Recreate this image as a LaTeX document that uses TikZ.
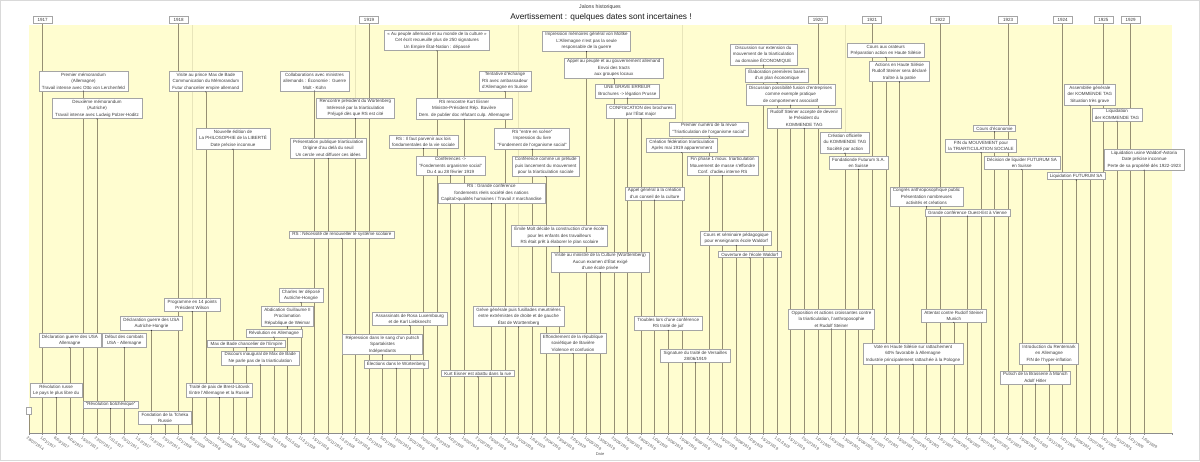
\documentclass[tikz,border=0pt]{standalone}
\usepackage{fontspec}
\setmainfont{Liberation Sans}
\definecolor{yel}{RGB}{255,253,208}
\definecolor{gridc}{RGB}{232,229,186}
\definecolor{tline}{RGB}{150,143,115}
\definecolor{bord}{RGB}{165,165,165}
\definecolor{txt}{RGB}{60,60,60}
\pgfdeclarelayer{bg}\pgfdeclarelayer{lines}\pgfsetlayers{bg,lines,main}
\tikzset{
 evbox/.style={draw=bord, line width=0.5pt, fill=white, align=center,
   font=\fontsize{4.5}{6.6}\selectfont, text=txt, inner xsep=3pt, inner ysep=1.5pt, anchor=north},
 yrbox/.style={evbox, anchor=center, minimum height=7pt, inner ysep=1pt, inner xsep=4.5pt},
 tl/.style={draw=tline, line width=0.6pt},
 datel/.style={font=\fontsize{4}{4}\selectfont, text=black!65, rotate=-36, anchor=north west, inner sep=0.5pt},
 axisl/.style={draw=black!45, line width=0.5pt},
}
\newcommand\evt[3]{%
 \node[evbox] (e#1) at ({29+13.6*#1},#2) {#3};
 \fill[black!85] (e#1.south) circle (0.55pt);
 \begin{pgfonlayer}{lines}\draw[tl] (a#1) -- (e#1.south);\end{pgfonlayer}}
\newcommand\yr[2]{%
 \node[yrbox] (y#1) at ({29+13.6*#1},20) {#2};
 \begin{pgfonlayer}{lines}\draw[tl] (a#1) -- (y#1.south);\end{pgfonlayer}}
\begin{document}
\begin{tikzpicture}[x=1pt,y=-1pt]
\useasboundingbox (0,0) rectangle (1200,461);
\begin{pgfonlayer}{bg}
\fill[white] (0,0) rectangle (1200,461);
\draw[black!15, line width=0.6pt] (0.5,0.5) rectangle (1199.5,460.5);
\fill[yel] (29,25) rectangle (1172,433);
\foreach \g in {12,24,36,48,60} \draw[gridc, line width=0.6pt] ({29+13.6*\g},25) -- ({29+13.6*\g},433);
\end{pgfonlayer}
% axis coordinates
\foreach \i in {0,...,82} \coordinate (a\i) at ({29+13.6*\i},433);
\coordinate (aend) at (1172,433);
\draw[axisl] (a0) -- (aend);
\foreach \i in {0,...,82} \draw[axisl] (a\i) -- ++(0,2);
\draw[axisl] (aend) -- ++(0,2);
% date labels
\foreach \d [count=\i from 0] in {{28/07/1914},{1/01/1917},{8/03/1917},{6/04/1917},{15/07/1917},{22/07/1917},{7/11/1917},{20/11/1917},{1/12/1917},{7/12/1917},{20/12/1917},
{1/01/1918},{8/01/1918},{20/01/1918},{3/03/1918},{1/06/1918},{3/10/1918},{5/10/1918},{3/11/1918},{9/11/1918},{11/11/1918},{15/11/1918},{20/11/1918},{1/12/1918},{15/12/1918},
{1/01/1919},{5/01/1919},{12/01/1919},{15/01/1919},{20/01/1919},{2/02/1919},{4/02/1919},{10/02/1919},{21/02/1919},{25/02/1919},{1/03/1919},{31/03/1919},{1/04/1919},{22/04/1919},{23/04/1919},{2/05/1919},{10/05/1919},{13/05/1919},{20/05/1919},{25/05/1919},{28/05/1919},{1/06/1919},{10/06/1919},{15/06/1919},{28/06/1919},{1/07/1919},{15/07/1919},{20/08/1919},{7/09/1919},{15/10/1919},{1/11/1919},{15/11/1919},{20/12/1919},
{1/01/1920},{1/03/1920},{13/03/1920},{15/06/1920},{1/01/1921},{1/02/1921},{15/02/1921},{20/03/1921},{1/05/1921},{1/01/1922},{15/05/1922},{1/06/1922},{15/07/1922},{24/07/1922},
{1/01/1923},{15/05/1923},{8/11/1923},{15/11/1923},{1/01/1924},{15/05/1924},{10/07/1924},{1/01/1925},{15/10/1925},{1/01/1929},{1/06/1929}}
 \node[datel] at ({29+13.6*\i-1},435.5) {\d};
\node[font=\fontsize{4}{4}\selectfont, text=black!65] (dt) at (600,454) {Date};
% titles
\node[font=\fontsize{5.2}{5.2}\selectfont, text=black!80] (t1) at (600,7) {Jalons historiques};
\node[font=\fontsize{8.3}{9}\selectfont, text=black!90] (t2) at (601,17.5) {Avertissement : quelques dates sont incertaines !};
% years
\yr{1}{1917}\yr{11}{1918}\yr{25}{1919}\yr{58}{1920}\yr{62}{1921}\yr{67}{1922}\yr{72}{1923}\yr{76}{1924}\yr{79}{1925}\yr{81}{1929}
% empty event
\node[evbox, minimum width=5pt, minimum height=7pt, inner sep=0pt] (e0) at (29,407.3) {};
\begin{pgfonlayer}{lines}\draw[tl] (a0) -- (e0.south);\end{pgfonlayer}
% events
\evt{2}{383.3}{Révolution russe\\Le pays le plus libre du}
\evt{3}{333.3}{Déclaration guerre des USA\\Allemagne}
\evt{4}{71}{Premier mémorandum\\(Allemagne)\\Travail intense avec Otto von Lerchenfeld}
\evt{5}{98}{Deuxième mémorandum\\(Autriche)\\Travail intense avec Ludwig Polzer-Hoditz}
\evt{6}{400.7}{"Révolution bolchévique"}
\evt{7}{333.3}{Début des combats\\USA - Allemagne}
\evt{9}{316}{Déclaration guerre des USA\\Autriche-Hongrie}
\evt{10}{411}{Fondation de la Tcheka\\Russie}
\evt{12}{298.3}{Programme en 14 points\\Président Wilson}
\evt{13}{71}{Visite au prince Max de Bade\\Communication du Mémorandum\\Futur chancelier empire allemand}
\evt{14}{383.3}{Traité de paix de Brest-Litovsk\\Entre l'Allemagne et la Russie}
\evt{15}{128.3}{Nouvelle édition de\\La PHILOSOPHIE de la LIBERTÉ\\Date précise inconnue}
\evt{16}{340}{Max de Bade chancelier de l'Empire}
\evt{17}{350.7}{Discours inaugural de Max de Bade\\Ne parle pas de la triarticulation}
\evt{18}{329.3}{Révolution en Allemagne}
\evt{19}{306}{Abdication Guillaume II\\Proclamation\\République de Weimar}
\evt{20}{288.3}{Charles Ier déposé\\Autriche-Hongrie}
\evt{21}{71}{Collaborations avec ministres\\allemands : Économie : Guerre\\Molt - Kühn}
\evt{22}{138.3}{Présentation publique triarticulation\\Origine d'au delà du seuil\\Un cercle veut diffuser ces idées}
\evt{23}{230.7}{RS : Nécessité de renouveller le système scolaire}
\evt{24}{97.7}{Rencontre président du Würtenberg\\Intéressé par la triarticulation\\Préjugé dès que RS est cité}
\evt{26}{334}{Répression dans le sang d'un putsch\\Spartakistes\\Indépendants}
\evt{27}{360}{Élections dans le Würtenberg}
\evt{28}{312.3}{Assassinats de Rosa Luxembourg\\et de Karl Liebknecht}
\evt{29}{135}{RS : Il faut parvenir aux lois\\fondamentales de la vie sociale}
\evt{30}{30}{« Au peuple allemand et au monde de la culture »\\Cet écrit recueuille plus de 250 signatures\\Un Empire État-Nation : dépassé}
\evt{31}{155.7}{Conférences ->\\"Fondements organisme social"\\Du 4 au 28 février 1919}
\evt{32}{98.3}{RS rencontre Kurt Eisner\\Ministre-Président Rép. Bavière\\Dem. de publier doc réfutant culp. Allemagne}
\evt{33}{370}{Kurt Eisner est abattu dans la rue}
\evt{34}{182.7}{RS : Grande conférence\\fondements réels société des nations\\Capital>qualités humaines / Travail ≠ marchandise}
\evt{35}{70.7}{Tentative d'échange\\RS avec ambassadeur\\d'Allemagne en Suisse}
\evt{36}{306}{Grève générale puis fusillades meurtrières\\entre extrémistes de droite et de gauche\\État de Württemberg}
\evt{37}{128.3}{RS "entre en scène"\\Impression du livre\\"Fondement de l'organisme social"}
\evt{38}{155.7}{Conférence comme un prélude\\puis lancement du mouvement\\pour la triarticulation sociale}
\evt{39}{225}{Émile Molt décide la construction d'une école\\pour les enfants des travailleurs\\RS était prêt à élaborer le plan scolaire}
\evt{40}{333.3}{Effondrement de la république\\soviétique de Bavière\\Violence et confusion}
\evt{41}{30.7}{Impression mémoires général von Moltke\\L'Allemagne n'est pas la seule\\responsable de la guerre}
\evt{42}{251.7}{Visite au ministre de la Culture (Württemberg)\\Aucun examen d'État exigé\\d'une école privée}
\evt{43}{57.7}{Appel au peuple et au gouvernement allemand\\Envoi des tracts\\aux groupes locaux}
\evt{44}{84}{UNE GRAVE ERREUR\\Brochures -> légation Prusse}
\evt{45}{104.3}{CONFISCATION des brochures\\par l'État major}
\evt{46}{186.7}{Appel général à la création\\d'un conseil de la culture}
\evt{47}{316}{Troubles lors d'une conférence\\RS traité de juif}
\evt{48}{138.3}{Création fédération triarticulation\\Après mai 1919 apparemment}
\evt{49}{349.3}{Signature du traité de Versailles\\28/06/1919}
\evt{50}{121.7}{Premier numéro de la revue\\"Triarticulation de l'organisme social"}
\evt{51}{155.7}{Fin phase 1 mouv. triarticulation\\Mouvement de masse s'effondre\\Conf. d'adieu interne RS}
\evt{52}{231}{Cours et séminaire pédagogique\\pour enseignants école Waldorf}
\evt{53}{251}{Ouverture de l'école Waldorf}
\evt{54}{44.3}{Discussion sur extension du\\mouvement de la triarticulation\\au domaine ÉCONOMIQUE}
\evt{55}{67.7}{Élaboration premières bases\\d'un plan économique}
\evt{56}{84.3}{Discussion possibilité fusion d'entreprises\\comme exemple pratique\\de comportement associatif}
\evt{57}{108.3}{Rudolf Steiner accepte de devenir\\le Président du\\KOMMENDE TAG}
\evt{59}{309}{Opposition et actions croissantes contre\\la triarticulation, l'anthroposophie\\et Rudolf Steiner}
\evt{60}{132.3}{Création officielle\\du KOMMENDE TAG\\Société par action}
\evt{61}{156}{Fondationde Futurum S.A.\\en Suisse}
\evt{63}{43.3}{Cours aux orateurs\\Préparation action en Haute Silésie}
\evt{64}{61}{Actions en Haute Silésie\\Rudolf Steiner sera déclaré\\traître à la patrie}
\evt{65}{343.3}{Vote en Haute Silésie sur rattachement\\60\% favorable à Allemagne\\Industrie principalement rattachée à la Pologne}
\evt{66}{186.7}{Congrès anthroposophique public\\Présentation nombreuses\\activités et créations}
\evt{68}{309}{Attentat contre Rudolf Steiner\\Munich}
\evt{69}{209.3}{Grande conférence Ouest-Est à Vienne}
\evt{70}{139.3}{FIN du MOUVEMENT pour\\la TRIARTICULATION SOCIALE}
\evt{71}{125}{Cours d'économie}
\evt{73}{156}{Décision de liquider FUTURUM SA\\en Suisse}
\evt{74}{370.7}{Putsch de la Brasserie à Münich\\Adolf Hitler}
\evt{75}{343.3}{Introduction du Rentemark\\en Allemagne\\FIN de l'hyper-inflation}
\evt{77}{172.3}{Liquidation FUTURUM SA}
\evt{78}{84.3}{Assemblée générale\\der KOMMENDE TAG\\Situation très grave}
\evt{80}{107.7}{Liquidation\\der KOMMENDE TAG}
\evt{82}{149.3}{Liquidation usine Waldorf-Astoria\\Date précise inconnue\\Perte de sa propriété dès 1922-1923}
\end{tikzpicture}
\end{document}
